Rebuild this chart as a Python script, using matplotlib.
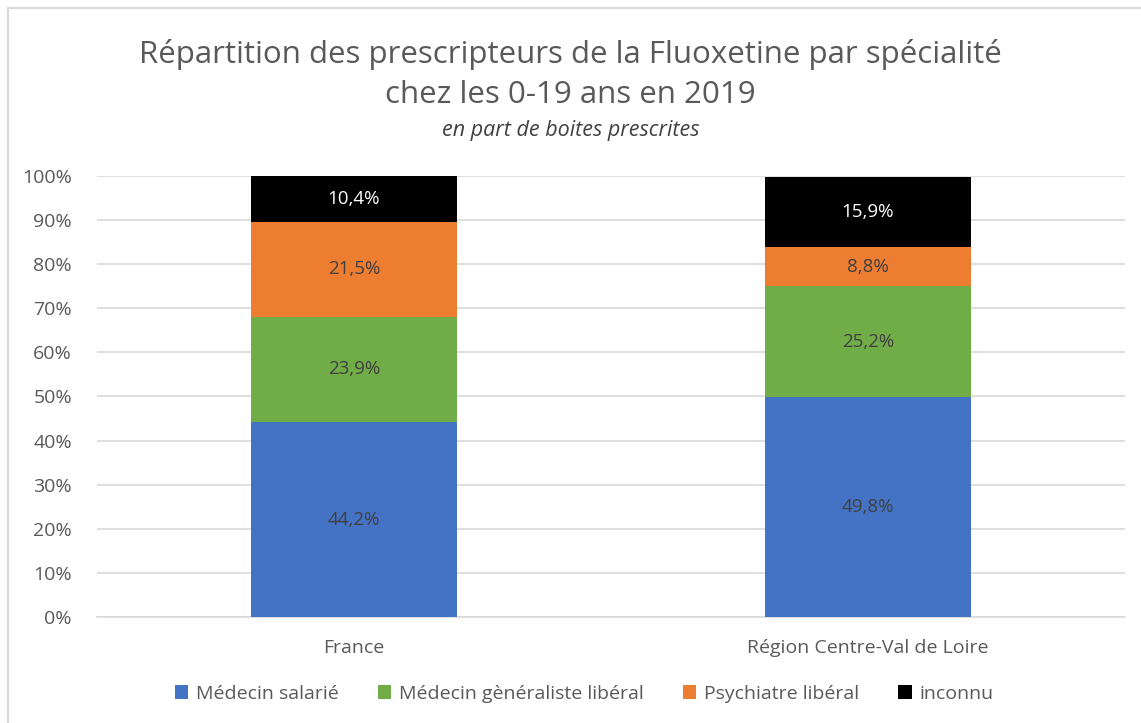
import numpy as np
import matplotlib.pyplot as plt
from matplotlib.patches import Rectangle

plt.rcParams['font.family'] = ['Open Sans', 'DejaVu Sans']

categories = ['France', 'Région Centre-Val de Loire']
series = ['Médecin salarié', 'Médecin gènéraliste libéral', 'Psychiatre libéral', 'inconnu']
salarie = [44.2, 49.8]
generaliste = [23.9, 25.2]
psychiatre = [21.5, 8.8]
inconnu = [10.4, 15.9]
values = [salarie, generaliste, psychiatre, inconnu]
colors = ['#4472C4', '#70AD47', '#ED7D31', '#000000']
text_colors = ['#404040', '#404040', '#404040', '#FFFFFF']

fig = plt.figure(figsize=(11.41, 7.23), dpi=100)
ax = fig.add_axes([0.085, 0.1466, 0.901, 0.61])

x = np.arange(len(categories))
bottom = np.zeros(len(categories))
for vals, col, tcol, name in zip(values, colors, text_colors, series):
    vals = np.array(vals)
    ax.bar(x, vals, 0.4, bottom=bottom, color=col, label=name, zorder=3)
    for xi, b, v in zip(x, bottom, vals):
        ax.text(xi, b + v / 2, f'{v:.1f}%'.replace('.', ','), ha='center', va='center',
                color=tcol, fontsize=13.5, zorder=4)
    bottom += vals

ax.set_xlim(-0.5, 1.5)
ax.set_ylim(0, 100)
ax.set_yticks(np.arange(0, 101, 10))
ax.set_yticklabels([f'{v}%' for v in range(0, 101, 10)])
ax.set_xticks(x)
ax.set_xticklabels(categories)
ax.yaxis.grid(True, color='#D9D9D9', linewidth=1.2, zorder=0)
for s in ['top', 'right', 'left']:
    ax.spines[s].set_visible(False)
ax.spines['bottom'].set_color('#D9D9D9')
ax.spines['bottom'].set_linewidth(1.2)
ax.tick_params(axis='both', length=0, labelsize=14, labelcolor='#595959')
ax.tick_params(axis='y', pad=18)
ax.tick_params(axis='x', pad=16)

fig.text(0.5, 0.897, 'Répartition des prescripteurs de la Fluoxetine par spécialité\nchez les 0-19 ans en 2019',
         ha='center', va='center', fontsize=22.5, color='#595959', linespacing=1.45)
fig.text(0.5, 0.82, 'en part de boites prescrites', ha='center', va='center',
         fontsize=15.5, style='italic', color='#404040')

fig.legend(loc='center', bbox_to_anchor=(0.512, 0.04), ncol=4, frameon=False,
           fontsize=14, handlelength=0.7, handleheight=0.7, columnspacing=2.0,
           handletextpad=0.4, labelcolor='#595959')

fig.add_artist(Rectangle((0.007, -0.01), 1.1, 0.999, transform=fig.transFigure,
                         fill=False, edgecolor='#D9D9D9', linewidth=1.5))

fig.savefig('out.png', dpi=100)
